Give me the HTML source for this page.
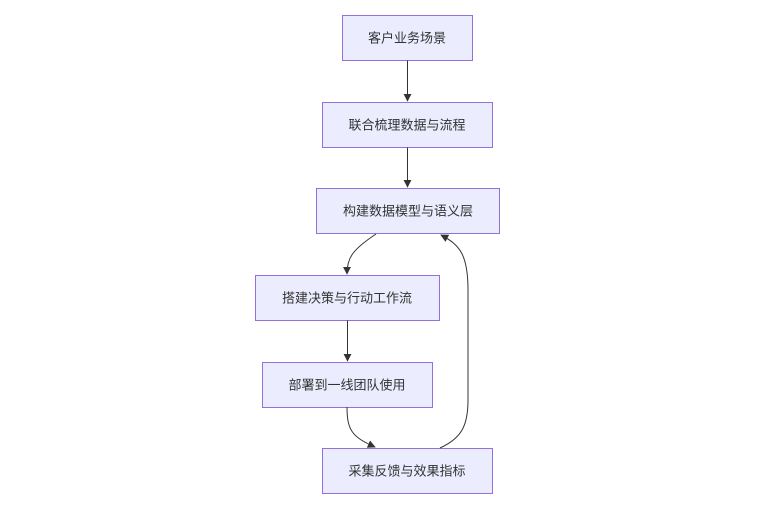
<!DOCTYPE html>
<html><head><meta charset="utf-8"><style>
body{margin:0;background:#fff;}
svg text{font-family:"Liberation Sans","Noto Sans CJK SC",sans-serif;font-size:13px;fill:#333;text-anchor:middle;dominant-baseline:central;}
rect{fill:#ECECFF;stroke:#9370DB;stroke-width:1;}
path{fill:none;stroke:#333;stroke-width:1;}
</style></head><body>
<svg width="760" height="516" xmlns="http://www.w3.org/2000/svg">
<defs><marker id="a" viewBox="0 0 10 10" refX="9" refY="5" markerWidth="8" markerHeight="8" orient="auto"><path d="M0,0L10,5L0,10z" style="fill:#333;stroke:none"/></marker></defs>
<rect x="342.5" y="15.5" width="130" height="45"/><text x="407" y="38">客户业务场景</text>
<rect x="322.5" y="102.5" width="170" height="45"/><text x="407" y="125">联合梳理数据与流程</text>
<rect x="316.5" y="188.5" width="183" height="45"/><text x="408" y="211">构建数据模型与语义层</text>
<rect x="255.5" y="275.5" width="184" height="45"/><text x="347" y="298">搭建决策与行动工作流</text>
<rect x="262.5" y="362.5" width="170" height="45"/><text x="347" y="385">部署到一线团队使用</text>
<rect x="322.5" y="448.5" width="170" height="45"/><text x="407" y="471">采集反馈与效果指标</text>
<path d="M407.5,60.5V101" marker-end="url(#a)"/>
<path d="M407.5,147.5V187" marker-end="url(#a)"/>
<path d="M376,234C352,250 347,258 347,274" marker-end="url(#a)"/>
<path d="M347.5,320.5V361" marker-end="url(#a)"/>
<path d="M347,407C347,430 352,437 375,447" marker-end="url(#a)"/>
<path d="M440,448C462,438 468,425 468,400V290C468,255 460,245 441,235" marker-end="url(#a)"/>
</svg>
</body></html>
